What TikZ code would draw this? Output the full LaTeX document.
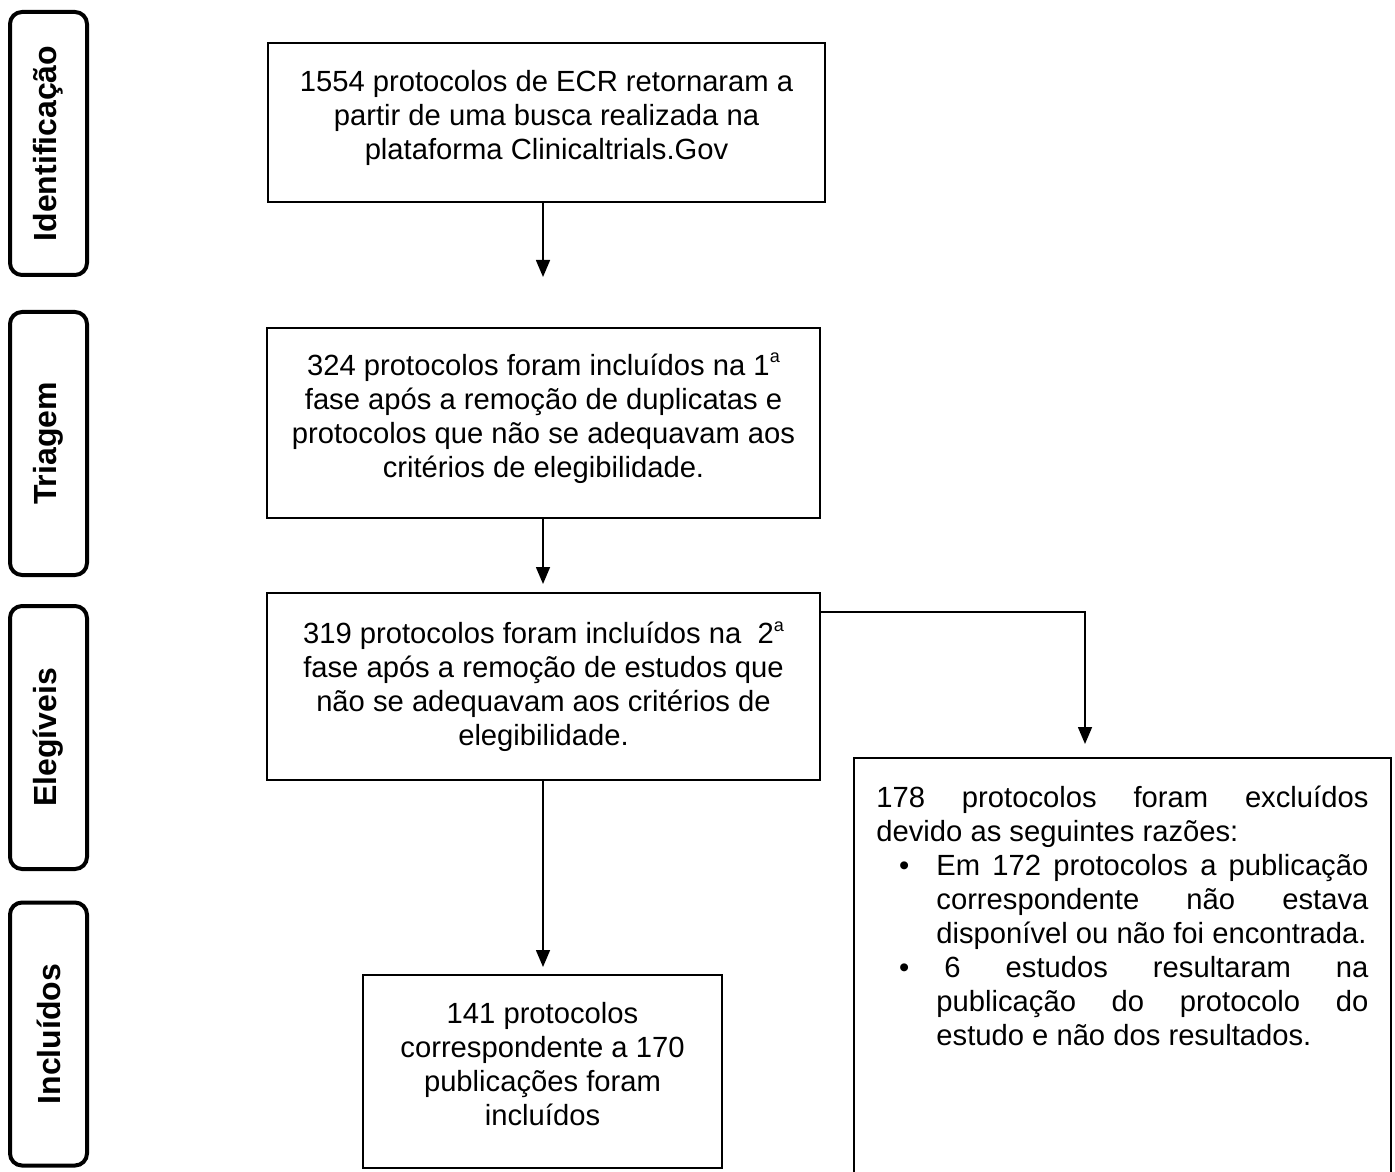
\documentclass[tikz,border=0pt]{standalone}
\usepackage{fontspec}
\setmainfont{Liberation Sans}
\usetikzlibrary{positioning,arrows.meta}
\newcommand{\ordsup}{\raisebox{0.8ex}{\fontsize{9}{9}\selectfont a}}

\begin{document}
\begin{tikzpicture}[x=0.5pt,y=-0.5pt,
    font=\fontsize{14.6}{17}\selectfont,
    stage/.style={draw, line width=2pt, rounded corners=6pt, rotate=90,
                  minimum width=131.5pt, minimum height=38.5pt, font=\fontsize{16}{19}\selectfont\bfseries},
    box/.style={draw, line width=1pt, align=center, inner sep=0pt},
    arr/.style={-{Triangle[width=7pt,length=8.5pt]}, line width=0.8pt}]
   \useasboundingbox (0,0) rectangle (1395,1171);

   % phases on the left
   \node[stage] (fase1) at (48.5,143.5)  {Identificação};
   \node[stage] (fase2) at (48.5,443.5)  {Triagem};
   \node[stage] (fase3) at (48.5,737.5)  {Elegíveis};
   \node[stage] (fase4) at (48.5,1034)   {Incluídos};

   % flow boxes
   \node[box, minimum width=278.5pt, minimum height=79.5pt] (ident) at (546.5,122.5)
      {1554 protocolos de ECR retornaram a\\ partir de uma busca realizada na\\ plataforma Clinicaltrials.Gov\\[-9pt]};
   \node[box, minimum width=276.5pt, minimum height=95pt] (triag) at (543.5,423)
      {324 protocolos foram incluídos na 1\ordsup\\ fase após a remoção de duplicatas e\\ protocolos que não se adequavam aos\\ critérios de elegibilidade.\\[-9pt]};
   \node[box, minimum width=276.5pt, minimum height=93.5pt] (eleg) at (543.5,686.5)
      {319 protocolos foram incluídos na \ 2\ordsup\\ fase após a remoção de estudos que\\ não se adequavam aos critérios de\\ elegibilidade.\\[-14pt]};
   \node[box, minimum width=179.5pt, minimum height=96.5pt] (incl) at (542.5,1071.5)
      {141 protocolos\\ correspondente a 170\\ publicações foram\\ incluídos\\[-9pt]};
   \node[box, anchor=north west, minimum width=268.5pt, minimum height=212pt] (excl) at (853,757) {};
   \node[anchor=north west, inner sep=0pt] (excltxt) at (876,786)
      {\parbox{246pt}{178 protocolos foram excluídos\linebreak devido as seguintes razões:
       \begin{list}{\textbullet}{\leftmargin=30pt \labelsep=13.5pt \labelwidth=16.5pt
                     \topsep=0pt \partopsep=0pt \itemsep=0pt \parsep=0pt}
       \item Em 172 protocolos a publicação\linebreak correspondente não estava\linebreak disponível ou não foi encontrada.
       \item \hspace{4pt}6 estudos resultaram na\linebreak publicação do protocolo do\linebreak estudo e não dos resultados.
       \end{list}}};

   % connectors
   \coordinate (tip1) at (543,277);
   \coordinate (bend) at (1085,612);
   \draw[arr] (tip1 |- ident.south) -- (tip1);
   \draw[arr, shorten >=4pt] (triag.south -| tip1) -- (eleg.north -| tip1);
   \draw[arr, shorten >=3.5pt] (eleg.south -| tip1) -- (incl.north -| tip1);
   \draw[arr, shorten >=6.5pt] (bend -| eleg.east) -- (bend) -- (bend |- excl.north);
\end{tikzpicture}
\end{document}
